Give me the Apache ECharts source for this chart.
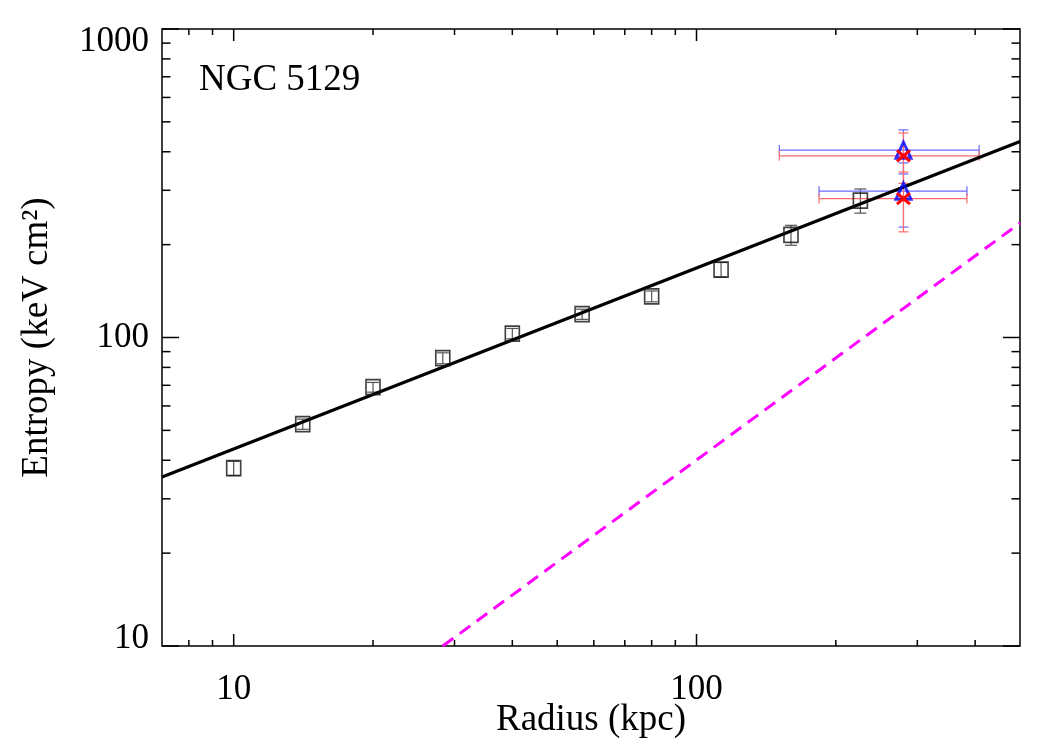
<!DOCTYPE html>
<html>
<head>
<meta charset="utf-8">
<title>NGC 5129 entropy profile</title>
<script src="https://cdn.jsdelivr.net/npm/echarts@6.0.0/dist/echarts.min.js"></script>
<style>
  html, body { margin: 0; padding: 0; background: #fff; }
  #main { width: 1050px; height: 750px; }
</style>
</head>
<body>
<div id="main"></div>
<script>
// annuli: radius (kpc), entropy (keV cm^2) and its error
var radius = [10, 14.1, 20, 28.3, 40, 56.6, 80, 113, 160, 226];
var entropy = [37.7, 52.4, 69, 85.7, 103, 119, 136, 166, 215, 278];
var entropyErr = [2, 2, 2.5, 3.5, 4, 4.5, 5.5, 9, 16, 25];

// outer points, blue triangles
var blueR = [280, 280];
var blueRLo = [151, 184];
var blueRHi = [408, 384];
var blueK = [405, 298];
var blueKErr = [66, 70];

// outer points, red crosses
var redR = [280, 280];
var redRLo = [151, 184];
var redRHi = [408, 384];
var redK = [388, 282];
var redKErr = [72, 62];

// best fit (solid) and baseline entropy (dashed), end points
var fitR = [7, 500];
var fitK = [35.3, 432];
var baseR = [28.3, 500];
var baseK = [10, 235];

// tick values
var xMajor = [10, 100];
var xMinor = [8, 9, 20, 30, 40, 50, 60, 70, 80, 90, 200, 300, 400];
var yMajor = [10, 100, 1000];
var yMinor = [20, 30, 40, 50, 60, 70, 80, 90, 200, 300, 400, 500, 600, 700, 800, 900];

var FONT = 'Liberation Serif';

function zip(a, b) {
  return a.map(function (v, i) { return [v, b[i]]; });
}

// tick marks drawn inward on all four sides
function tickSeries(vals, dir, len) {
  return {
    type: 'custom',
    silent: true,
    z: 10,
    data: vals.map(function (v) { return dir === 'x' ? [v, 100] : [100, v]; }),
    renderItem: function (params, api) {
      var cs = params.coordSys;
      var p = api.coord([api.value(0), api.value(1)]);
      var st = { stroke: '#000', lineWidth: 1.5 };
      if (dir === 'x') {
        var b = cs.y + cs.height;
        return { type: 'group', children: [
          { type: 'line', shape: { x1: p[0], y1: b, x2: p[0], y2: b - len }, style: st },
          { type: 'line', shape: { x1: p[0], y1: cs.y, x2: p[0], y2: cs.y + len }, style: st }
        ] };
      }
      var r = cs.x + cs.width;
      return { type: 'group', children: [
        { type: 'line', shape: { x1: cs.x, y1: p[1], x2: cs.x + len, y2: p[1] }, style: st },
        { type: 'line', shape: { x1: r, y1: p[1], x2: r - len, y2: p[1] }, style: st }
      ] };
    }
  };
}

// vertical error bars with caps
function yErrSeries(xs, ys, errs, color, width, cap) {
  return {
    type: 'custom',
    silent: true,
    z: 3,
    data: xs.map(function (x, i) { return [x, ys[i], errs[i]]; }),
    renderItem: function (params, api) {
      var x = api.value(0), y = api.value(1), e = api.value(2);
      var t = api.coord([x, y + e]);
      var b = api.coord([x, y - e]);
      var st = { stroke: color, lineWidth: width };
      return { type: 'group', children: [
        { type: 'line', shape: { x1: t[0], y1: t[1], x2: b[0], y2: b[1] }, style: st },
        { type: 'line', shape: { x1: t[0] - cap, y1: t[1], x2: t[0] + cap, y2: t[1] }, style: st },
        { type: 'line', shape: { x1: b[0] - cap, y1: b[1], x2: b[0] + cap, y2: b[1] }, style: st }
      ] };
    }
  };
}

// horizontal error bars with caps
function xErrSeries(ys, lo, hi, color, width, cap) {
  return {
    type: 'custom',
    silent: true,
    z: 3,
    data: ys.map(function (y, i) { return [lo[i], y, hi[i]]; }),
    renderItem: function (params, api) {
      var y = api.value(1);
      var l = api.coord([api.value(0), y]);
      var r = api.coord([api.value(2), y]);
      var st = { stroke: color, lineWidth: width };
      return { type: 'group', children: [
        { type: 'line', shape: { x1: l[0], y1: l[1], x2: r[0], y2: r[1] }, style: st },
        { type: 'line', shape: { x1: l[0], y1: l[1] - cap, x2: l[0], y2: l[1] + cap }, style: st },
        { type: 'line', shape: { x1: r[0], y1: r[1] - cap, x2: r[0], y2: r[1] + cap }, style: st }
      ] };
    }
  };
}

function isDecade(v) {
  var l = Math.log(v) / Math.LN10;
  return Math.abs(l - Math.round(l)) < 1e-6;
}

var dom = document.getElementById('main');
var myChart = echarts.init(dom, null, { renderer: 'canvas' });

var option = {
  backgroundColor: '#fff',
  animation: false,
  grid: {
    left: 162, right: 30, top: 29, bottom: 104,
    outerBoundsMode: 'none',
    show: true, borderColor: '#000', borderWidth: 1.5, backgroundColor: 'transparent'
  },
  graphic: [{
    type: 'text',
    left: 199, top: 62,
    style: { text: 'NGC 5129', fontFamily: FONT, fontSize: 37, fill: '#000' }
  }],
  xAxis: {
    type: 'log', logBase: 10, min: 7, max: 500,
    axisLine: { show: false },
    axisTick: { show: false },
    splitLine: { show: false },
    axisLabel: {
      color: '#000', fontFamily: FONT, fontSize: 35, margin: 26,
      showMinLabel: false, showMaxLabel: false,
      formatter: function (v) { return isDecade(v) ? String(Math.round(v)) : ''; }
    },
    name: 'Radius (kpc)', nameLocation: 'middle', nameGap: 56, nameMoveOverlap: false,
    nameTextStyle: { color: '#000', fontFamily: FONT, fontSize: 37 }
  },
  yAxis: {
    type: 'log', logBase: 10, min: 10, max: 1000,
    axisLine: { show: false },
    axisTick: { show: false },
    splitLine: { show: false },
    axisLabel: {
      color: '#000', fontFamily: FONT, fontSize: 35, margin: 13,
      formatter: function (v) {
        var s = String(Math.round(v));
        if (s === '1000') return '{top|' + s + '}';
        if (s === '10') return '{bot|' + s + '}';
        return s;
      },
      rich: {
        top: { fontFamily: FONT, fontSize: 35, color: '#000', padding: [26, 0, 0, 0] },
        bot: { fontFamily: FONT, fontSize: 35, color: '#000', padding: [0, 0, 15, 0] }
      }
    },
    name: 'Entropy (keV cm\u00b2)', nameLocation: 'middle', nameGap: 106, nameRotate: 90,
    nameMoveOverlap: false,
    nameTextStyle: { color: '#000', fontFamily: FONT, fontSize: 37 }
  },
  series: [
    tickSeries(xMajor, 'x', 12),
    tickSeries(xMinor, 'x', 6),
    tickSeries(yMajor, 'y', 17),
    tickSeries(yMinor, 'y', 8.5),
    {
      type: 'line', data: zip(fitR, fitK), showSymbol: false, silent: true, z: 4,
      lineStyle: { color: '#000', width: 3.2 }
    },
    {
      type: 'line', data: zip(baseR, baseK), showSymbol: false, silent: true, z: 4,
      lineStyle: { color: '#ff00ff', width: 3, type: [13, 8] }
    },
    yErrSeries(radius, entropy, entropyErr, '#555', 1.2, 6),
    {
      type: 'scatter', data: zip(radius, entropy), symbol: 'rect', symbolSize: [14, 15],
      silent: true, z: 5,
      itemStyle: { color: 'rgba(0,0,0,0)', borderColor: '#111', borderWidth: 1.7 }
    },
    xErrSeries(blueK, blueRLo, blueRHi, '#6a6aff', 1.2, 5),
    xErrSeries(redK, redRLo, redRHi, '#ff6a6a', 1.2, 5),
    yErrSeries(blueR, blueK, blueKErr, '#6a6aff', 1.2, 5),
    yErrSeries(redR, redK, redKErr, '#ff6a6a', 1.2, 5),
    {
      type: 'scatter', data: zip(blueR, blueK), symbol: 'triangle', symbolSize: [15, 16],
      silent: true, z: 6,
      itemStyle: { color: 'rgba(0,0,0,0)', borderColor: '#0000ff', borderWidth: 3 }
    },
    {
      type: 'custom', silent: true, z: 7,
      data: zip(redR, redK),
      renderItem: function (params, api) {
        var p = api.coord([api.value(0), api.value(1)]);
        var st = { stroke: '#ff0000', lineWidth: 3 };
        return { type: 'group', children: [
          { type: 'line', shape: { x1: p[0] - 6.5, y1: p[1] - 5.5, x2: p[0] + 6.5, y2: p[1] + 5.5 }, style: st },
          { type: 'line', shape: { x1: p[0] - 6.5, y1: p[1] + 5.5, x2: p[0] + 6.5, y2: p[1] - 5.5 }, style: st }
        ] };
      }
    }
  ]
};

if (option && typeof option === 'object') {
  myChart.setOption(option, true);
}
</script>
</body>
</html>
